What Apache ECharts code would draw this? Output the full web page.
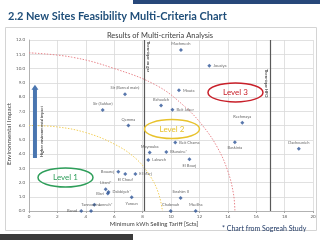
<!DOCTYPE html>
<html>
<head>
<meta charset="utf-8">
<script src="https://cdn.jsdelivr.net/npm/echarts@6/dist/echarts.min.js"></script>
</head>
<body style="margin:0; background:#fff">
<div id="container" style="width:320px; height:240px"></div>
<script type="text/javascript">
// sites: tariff (x) and environmental impact (y)
var siteNames = ['Machmech', 'Jouaiya', 'Sir (Barred main)', 'Mouta', 'Bchaaleh', 'Beit Jaber',
    'Sir (Sukkar)', 'Qemma', 'Rechmaya', 'Beit Chama', 'Bkassine*', 'Mayrouba', 'Labweh',
    'El Bourj', 'Baskinta', 'Dachounieh', 'Bouarej', 'El Chouf', 'El Marj', 'Litani*',
    'Dabbiyeh*', 'Bisri', 'Yaroun', 'Janneh*', 'Tannourine', 'Barad', 'Ibrahim II',
    'Chabrouh', 'Mseilha'];
var tariff = [10.7, 12.7, 6.76, 10.56, 9.3, 10.1, 5.19, 7.0, 15.02, 10.3, 9.67, 8.5, 8.4,
    11.3, 14.5, 19.0, 6.29, 6.78, 7.49, 5.4, 5.6, 5.55, 7.23, 4.6, 4.37, 3.68, 10.68, 9.98, 11.74];
var impact = [11.3, 10.2, 8.2, 8.47, 7.4, 7.1, 7.09, 6.0, 6.2, 4.8, 4.14, 4.1, 3.58,
    3.63, 4.83, 4.37, 2.76, 2.6, 2.6, 1.53, 1.33, 1.22, 0.96, 0.44, 0.0, 0.0, 0.91, 0.0, 0.0];
var labelPos = ['top', 'right', 'top', 'right', 'top', 'right', 'top', 'top', 'top', 'right',
    'right', 'top', 'right', 'bottom', 'bottom', 'top', 'left', 'bottom', 'right', 'top',
    'right', 'left', 'bottom', 'right', 'top', 'left', 'top', 'top', 'top'];

// dotted boundary curves (estimated points)
var redCurveX = [0, 3, 6, 9, 11, 12.3, 13.3, 14, 14.4, 14.5];
var redCurveY = [11.1, 10.8, 10.0, 8.8, 7.3, 5.9, 4.4, 2.8, 1.2, 0];
var yellowCurveX = [0, 2, 4, 6, 7.5, 8.5, 9.1, 9.4];
var yellowCurveY = [6.0, 5.9, 5.5, 4.7, 3.7, 2.5, 1.3, 0];

// thresholds (vertical lines)
var thresholdX = [8.13, 17];
var thresholdNames = ['Thermique au gaz', 'Thermique HFO'];

// level ellipses (centres in data units)
var levelNames = ['Level 1', 'Level 2', 'Level 3'];
var levelX = [2.57, 10.07, 14.54];
var levelY = [2.35, 5.75, 8.32];

// blue arrow
var arrowX = 0.42;
var arrowFrom = 3.72;
var arrowTo = 8.86;

var font = 'Lato, "Open Sans", sans-serif';

var dom = document.getElementById('container');
var myChart = echarts.init(dom, null, {renderer: 'canvas'});

function pairs(xs, ys) {
    return xs.map(function (x, i) { return [x, ys[i]]; });
}

myChart.setOption({
    animation: false,
    backgroundColor: '#ffffff',
    grid: {left: 29, right: 7, top: 40, bottom: 29, outerBoundsMode: 'none'},
    xAxis: {
        type: 'value', min: 0, max: 20, interval: 2,
        axisLine: {show: true, lineStyle: {color: '#a6a6a6', width: 0.8}},
        axisTick: {show: true, length: 2, lineStyle: {color: '#a6a6a6'}},
        axisLabel: {fontSize: 4.5, color: '#595959', fontFamily: font, margin: 3},
        splitLine: {show: true, lineStyle: {color: '#d9d9d9', width: 0.8}}
    },
    yAxis: {
        type: 'value', min: 0, max: 12, interval: 1,
        axisLine: {show: true, lineStyle: {color: '#a6a6a6', width: 0.8}},
        axisTick: {show: false},
        axisLabel: {fontSize: 4.5, color: '#595959', fontFamily: font, margin: 4,
            formatter: function (v) { return v.toFixed(1); }},
        splitLine: {show: true, lineStyle: {color: '#d9d9d9', width: 0.8}}
    },
    series: [
        {
            type: 'line', data: pairs(redCurveX, redCurveY), smooth: 0.4, showSymbol: false,
            lineStyle: {color: '#e8868c', width: 1, type: [1.5, 1.5]}, z: 2
        },
        {
            type: 'line', data: pairs(yellowCurveX, yellowCurveY), smooth: 0.4, showSymbol: false,
            lineStyle: {color: '#f2cf5b', width: 1, type: [1.5, 1.5]}, z: 2
        },
        {
            type: 'scatter',
            symbol: 'diamond', symbolSize: 4,
            itemStyle: {color: '#2e5597'},
            label: {show: true, formatter: '{b}', fontSize: 4, color: '#404040', fontFamily: font, distance: 2},
            data: siteNames.map(function (n, i) {
                return {name: n, value: [tariff[i], impact[i]], label: {position: labelPos[i]}};
            }),
            markLine: {
                silent: true, symbol: 'none', label: {show: false},
                lineStyle: {color: '#595959', width: 1.2, type: 'solid'},
                data: thresholdX.map(function (x) { return {xAxis: x}; })
            },
            z: 3
        }
    ]
});

// annotations placed through the axes
var graphic = [
    {type: 'rect', shape: {x: 133, y: 0, width: 187, height: 4}, style: {fill: '#27487a'}},
    {type: 'rect', shape: {x: 0, y: 234, width: 133, height: 6}, style: {fill: '#3b3b3b'}},
    {type: 'rect', shape: {x: 5.5, y: 27.5, width: 311, height: 203}, style: {fill: 'none', stroke: '#d4d4d4', lineWidth: 1}, z: -1},
    {type: 'text', x: 8, y: 16, style: {text: '2.2 New Sites Feasibility Multi-Criteria Chart', fill: '#1f4e79',
        font: 'bold 11px ' + font, textAlign: 'left', textVerticalAlign: 'middle', align: 'left', verticalAlign: 'middle'}},
    {type: 'text', x: 160, y: 36, style: {text: 'Results of Multi-criteria Analysis', fill: '#404040',
        font: '7.5px ' + font, textAlign: 'center', textVerticalAlign: 'middle', align: 'center', verticalAlign: 'middle'}},
    {type: 'text', x: 154, y: 224, style: {text: 'Minimum kWh Selling Tariff [Scts]', fill: '#404040',
        font: '6px ' + font, textAlign: 'center', textVerticalAlign: 'middle', align: 'center', verticalAlign: 'middle'}},
    {type: 'text', x: 9, y: 134, rotation: Math.PI / 2, style: {text: 'Environmental Impact', fill: '#404040',
        font: '6.5px ' + font, textAlign: 'center', textVerticalAlign: 'middle', align: 'center', verticalAlign: 'middle'}},
    {type: 'text', x: 222, y: 228.5, style: {text: '* Chart from Sogreah Study', fill: '#1f3864',
        font: '7px ' + font, textAlign: 'left', textVerticalAlign: 'middle', align: 'left', verticalAlign: 'middle'}, z: 10}
];

var levelColors = ['#2e9e5a', '#e8c22c', '#c8202a'];
levelNames.forEach(function (name, i) {
    var p = myChart.convertToPixel({gridIndex: 0}, [levelX[i], levelY[i]]);
    graphic.push({type: 'ellipse', shape: {cx: p[0], cy: p[1], rx: 27.5, ry: 9.5},
        style: {fill: 'rgba(255,255,255,0)', stroke: levelColors[i], lineWidth: 1.5}, z: 5});
    graphic.push({type: 'text', x: p[0], y: p[1], style: {text: name, fill: levelColors[i],
        font: '8px ' + font, textAlign: 'center', textVerticalAlign: 'middle', align: 'center', verticalAlign: 'middle'}, z: 6});
});

var thrOffset = [3.5, -4];
var thrTop = [41, 69];
thresholdX.forEach(function (x, i) {
    var p = myChart.convertToPixel({gridIndex: 0}, [x, 0]);
    graphic.push({type: 'text', x: p[0] + thrOffset[i], y: thrTop[i], rotation: -Math.PI / 2,
        style: {text: thresholdNames[i], fill: '#262626', font: '4px ' + font,
            textAlign: 'left', textVerticalAlign: 'middle', align: 'left', verticalAlign: 'middle'}, z: 6});
});

var a0 = myChart.convertToPixel({gridIndex: 0}, [arrowX, arrowFrom]);
var a1 = myChart.convertToPixel({gridIndex: 0}, [arrowX, arrowTo]);
graphic.push({type: 'rect', shape: {x: a0[0] - 2, y: a1[1] + 4, width: 4, height: a0[1] - a1[1] - 4},
    style: {fill: '#4a76b0'}, z: 6});
graphic.push({type: 'polygon', shape: {points: [[a1[0] - 3.5, a1[1] + 5], [a1[0] + 3.5, a1[1] + 5], [a1[0], a1[1]]]},
    style: {fill: '#4a76b0'}, z: 6});
graphic.push({type: 'text', x: a0[0] + 7, y: a0[1] - 1, rotation: Math.PI / 2,
    style: {text: 'Higher environmental impact', fill: '#262626', font: '4px ' + font,
        textAlign: 'left', textVerticalAlign: 'middle', align: 'left', verticalAlign: 'middle'}, z: 6});

myChart.setOption({graphic: graphic});
</script>
</body>
</html>
